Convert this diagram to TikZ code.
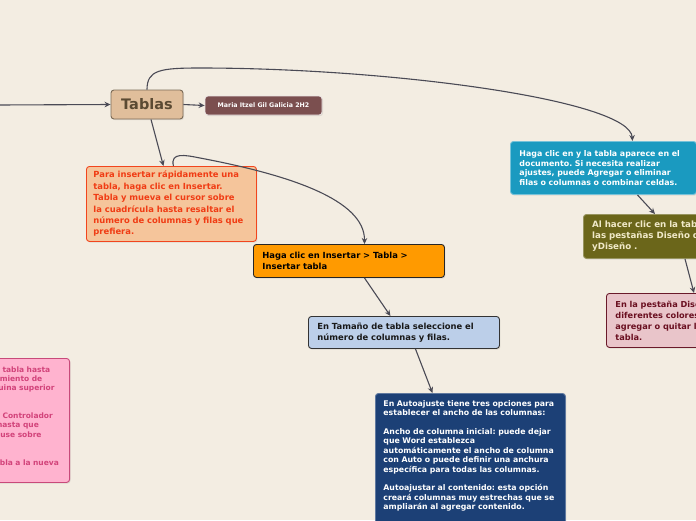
\documentclass[tikz,border=0pt]{standalone}
\usepackage{fontspec}
\setmainfont{DejaVu Sans}
\frenchspacing
\usetikzlibrary{arrows.meta,shadows}
\definecolor{bg}{HTML}{F3EDE2}
\definecolor{lnc}{HTML}{4A4A55}
\definecolor{tanf}{HTML}{E0BE9B}
\definecolor{tanb}{HTML}{7B6B57}
\definecolor{tant}{HTML}{5B4A33}
\definecolor{marf}{HTML}{7B4F4F}
\definecolor{parf}{HTML}{F5C59B}
\definecolor{parb}{HTML}{F2451D}
\definecolor{part}{HTML}{F03C14}
\definecolor{orf}{HTML}{FF9A00}
\definecolor{lbf}{HTML}{BCCFE9}
\definecolor{dbf}{HTML}{1C4076}
\definecolor{tef}{HTML}{1A9AC0}
\definecolor{olf}{HTML}{6B661A}
\definecolor{olt}{HTML}{F0E9C8}
\definecolor{prf}{HTML}{E9C5CA}
\definecolor{prb}{HTML}{6A1A2A}
\definecolor{prt}{HTML}{6A0F20}
\definecolor{plf}{HTML}{FFB3CF}
\definecolor{plb}{HTML}{C84A7A}
\definecolor{plt}{HTML}{D2437A}
\newcommand{\trail}[1]{\rule{#1}{0pt}}
\begin{document}
\begin{tikzpicture}[x=1pt,y=-1pt,
  box/.style={draw, rounded corners=3pt, line width=0.9pt, anchor=north west, align=left,
    drop shadow={opacity=0.18, shadow xshift=1pt, shadow yshift=-1.2pt}},
  conn/.style={draw=lnc, line width=1.1pt, -{Stealth[length=6pt,width=5.5pt]}}]
\useasboundingbox (0,0) rectangle (696,520);
\clip (0,0) rectangle (696,520);
\fill[bg] (0,0) rectangle (696,520);

\node[box, anchor=center, align=center, fill=tanf, draw=tanb, text=tant,
  minimum width=72pt, minimum height=29pt, inner sep=0pt,
  font=\bfseries\fontsize{14.5}{16}\selectfont] (tablas) at (147,104.5) {Tablas};

\node[box, anchor=center, align=center, fill=marf, draw=white!85!marf, text=white,
  minimum width=117pt, minimum height=19pt, inner sep=0pt, line width=0.7pt,
  font=\bfseries\fontsize{6.3}{7}\selectfont] (maria) at (263.5,105.5) {Maria Itzel Gil Galicia 2H2};

\node[box, fill=parf, draw=parb, text=part, inner xsep=7pt, text width=156pt,
  minimum height=75pt, font=\bfseries\fontsize{8.4}{11.4}\selectfont] (para) at (86,166)
  {Para insertar rápidamente una\\tabla, haga clic en Insertar.\\Tabla y mueva el cursor sobre\\la cuadrícula hasta resaltar el\\número de columnas y filas que\\prefiera.};

\node[box, fill=orf, draw=black!85, text=black, inner xsep=9pt, text width=173pt,
  minimum height=33pt, font=\bfseries\fontsize{8.4}{11}\selectfont] (orange) at (253,244)
  {Haga clic en Insertar > Tabla >\\Insertar tabla};

\node[box, fill=lbf, draw=black!80, text=black!90, inner xsep=9pt, text width=173pt,
  minimum height=32pt, font=\bfseries\fontsize{8.4}{11}\selectfont] (lblue) at (308,316)
  {En Tamaño de tabla seleccione el\\número de columnas y filas.};

\node[box, fill=dbf, draw=dbf!70!white, text=white, inner xsep=8pt, inner ysep=7pt, text width=174pt,
  font=\bfseries\fontsize{7.8}{9.4}\selectfont] (dblue) at (375,393)
  {En Autoajuste tiene tres opciones para\\establecer el ancho de las columnas:\\[9.4pt]Ancho de columna inicial: puede dejar\\que Word establezca\\automáticamente el ancho de columna\\con Auto o puede definir una anchura\\específica para todas las columnas.\\[9.4pt]Autoajustar al contenido: esta opción\\creará columnas muy estrechas que se\\ampliarán al agregar contenido.\\ \mbox{}\\ \mbox{}};

\node[box, fill=tef, draw=tef!60!white, text=white, inner xsep=9pt, text width=168pt,
  minimum height=53pt, font=\bfseries\fontsize{7.9}{9.6}\selectfont] (teal) at (510,141)
  {Haga clic en y la tabla aparece en el\\documento. Si necesita realizar\\ajustes, puede Agregar o eliminar\\filas o columnas o combinar celdas.};

\node[box, fill=olf, draw=olf!70!white, text=olt, inner xsep=8.7pt, text width=200pt,
  minimum height=44pt, font=\bfseries\fontsize{8.7}{11}\selectfont] (olive) at (583,214)
  {Al hacer clic en la tabla, aparecen\\las pestañas Diseño de tabla\\yDiseño .};

\node[box, fill=prf, draw=prb, text=prt, inner xsep=9pt, text width=200pt,
  minimum height=54pt, font=\bfseries\fontsize{8.2}{11}\selectfont] (pinkr) at (606,293)
  {En la pestaña Diseño, elija\\diferentes colores, estilos,\\agregar o quitar líneas de la\\tabla.};

\node[box, anchor=north east, align=right, fill=plf, draw=plb, text=plt, inner xsep=10.7pt,
  inner ysep=8pt, text width=260pt, font=\bfseries\fontsize{7.5}{9.3}\selectfont] (pinkl) at (70,358)
  {Mantenga el puntero sobre la tabla hasta\trail{8.6pt}\\que aparezca el controlador de movimiento de\trail{16.6pt}\\tabla en la esquina superior\trail{4.3pt}\\ \mbox{}\\ \mbox{}\\Mantenga el puntero sobre el Controlador\trail{6pt}\\de movimiento de tabla hasta que\trail{20pt}\\el puntero del mouse sobre\trail{17.3pt}\\ \mbox{}\\ \mbox{}\\Haga clic y arrastre la tabla a la nueva\\ \mbox{}};

\coordinate (lin) at (-2,105);
\draw[conn] (lin) -- (tablas.west);
\draw[conn] (tablas.east) -- (maria.west);
\draw[conn] (tablas.north) .. controls (147,70) and (160,68) .. (200,68)
  .. controls (390,68) and (630,100) .. ([xshift=29pt]teal.north);
\draw[conn] ([xshift=4pt]tablas.south) -- ([xshift=-8pt]para.north);
\draw[conn] ([xshift=2pt]para.north) .. controls (170,152) and (185,155) .. (200,158)
  .. controls (290,175) and (365,200) .. ([xshift=15.5pt]orange.north);
\draw[conn] ([xshift=15.5pt]orange.south) -- ([xshift=-13.5pt]lblue.north);
\draw[conn] ([xshift=11.5pt]lblue.south) -- ([xshift=-38pt]dblue.north);
\draw[conn] ([xshift=34pt]teal.south) -- ([xshift=72pt]olive.north west);
\draw[conn] ([xshift=102pt]olive.south west) -- ([xshift=88pt]pinkr.north west);
\end{tikzpicture}
\end{document}
